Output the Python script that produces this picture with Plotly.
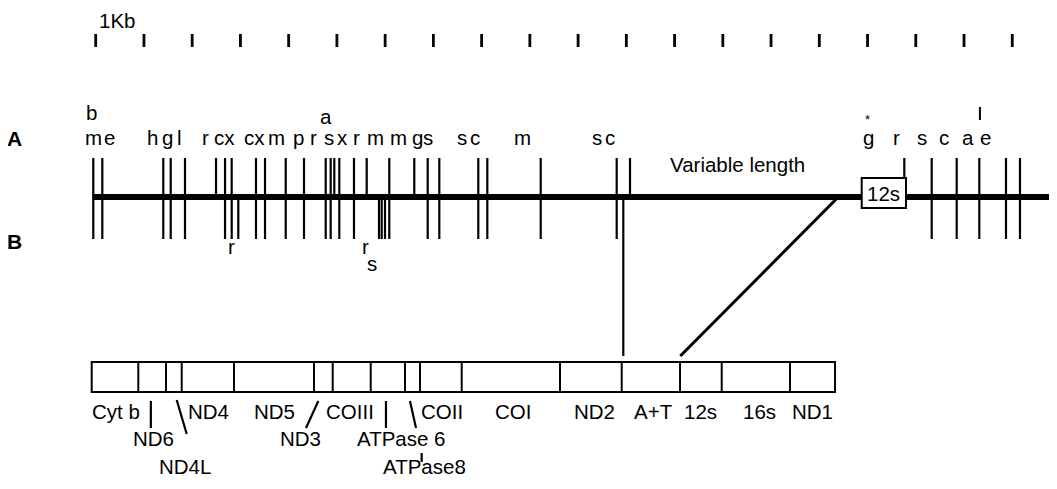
import plotly.graph_objects as go

# ---------------- data (positions in kb) ----------------
ruler_kb = list(range(20))

# restriction sites: position (kb), strand ("AB" both, "A" top only, "B" bottom only)
site_kb = [-0.05, 0.137, 1.401, 1.555, 1.851, 2.494, 2.681, 2.819, 2.956, 3.323,
           3.510, 3.939, 4.318, 4.768, 4.871, 4.946, 5.050, 5.354, 5.618, 5.873,
           5.929, 5.997, 6.086, 6.604, 6.882, 7.123, 7.931, 8.118, 9.225, 10.800,
           11.076, 16.762, 17.330, 17.848, 18.317, 18.870, 19.160]
site_strand = ["AB", "AB", "AB", "AB", "AB", "A", "AB", "AB", "B", "AB",
               "AB", "AB", "AB", "AB", "AB", "A", "AB", "AB", "A", "B",
               "B", "B", "AB", "A", "AB", "AB", "AB", "AB", "AB", "AB",
               "A", "A", "AB", "AB", "AB", "AB", "AB"]
link_site_kb = 10.937          # B site joined to the gene map
map_end_kb = [-0.062, 19.95]
rrna_box_kb = [15.879, 16.797]
diag_top_kb, diag_bottom_kb = 15.394, 12.119

top_labels = ["m", "e", "h", "g", "l", "r", "cx", "cx", "m", "p", "r", "s", "x",
              "r", "m", "m", "g", "s", "s", "c", "m", "s", "c", "g", "r", "s", "c", "a", "e"]
top_label_kb = [-0.05, 0.296, 1.182, 1.478, 1.727, 2.266, 2.67, 3.30,
                3.752, 4.194, 4.505, 4.836, 5.126, 5.396, 5.790, 6.267, 6.661, 6.889,
                7.593, 7.863, 8.852, 10.398, 10.667, 16.016, 16.590, 17.123, 17.585,
                18.083, 18.435]
upper_labels = ["b", "a", "*"]
upper_label_kb = [-0.083, 4.768, 15.99]
bottom_labels = ["r", "r", "s"]
bottom_label_kb = [2.819, 5.583, 5.721]
bottom_label_row = [0, 0, 1]

gene_bounds_kb = [-0.083, 0.883, 1.457, 1.783, 2.867, 4.525, 4.913, 5.701, 6.412, 6.723,
                  7.587, 9.625, 10.904, 12.113, 12.977, 14.393, 15.326]
gene_names = ["Cyt b", "ND6", "ND4L", "ND4", "ND5", "ND3", "COIII", "ATPase 6", "ATPase8",
              "COII", "COI", "ND2", "A+T", "12s", "16s", "ND1"]
gene_label_kb = [0.421, 1.188, 1.851, 2.332, 3.716, 4.235, 5.271, 6.349, 6.826,
                 7.172, 8.650, 10.330, 11.553, 12.527, 13.750, 14.849]
gene_label_row = [0, 1, 2, 0, 0, 1, 0, 1, 2, 0, 0, 0, 0, 0, 0, 0]
# leader lines (x0, x1) in kb, row spans
leader_x0 = [1.143, 1.679, 4.615, 6.017, 6.515, 6.757]
leader_x1 = [1.143, 1.887, 4.360, 6.017, 6.640, 6.757]
leader_row = ["r1", "r1l", "r1", "r1", "r1", "r2"]

# ---------------- layout constants (pixels on y) ----------------
FONT = "Liberation Sans"
FS = 20.5
Y_RULER = (34, 47)
Y_MAP = 197
Y_TOP, Y_BOT = 158, 239
Y_GENE = (362, 392)
Y_ROWS = [411, 438, 466]
PAGE_OFF = 8          # body margin of the html page
W, H = 1057 - PAGE_OFF, 489 - PAGE_OFF
PX_PER_KB, KB0_PX = 48.24, 95.7

fig = go.Figure()

def seg_trace(xs0, xs1, ys0, ys1, width):
    X, Y = [], []
    for a, b, c, d in zip(xs0, xs1, ys0, ys1):
        X += [a, b, None]
        Y += [c, d, None]
    fig.add_trace(go.Scatter(x=X, y=Y, mode="lines", line=dict(color="black", width=width),
                             hoverinfo="skip", showlegend=False))

# ruler
seg_trace(ruler_kb, ruler_kb, [Y_RULER[0]] * 20, [Y_RULER[1]] * 20, 2.8)

# cut sites
x0, x1, y0, y1 = [], [], [], []
for k, s in zip(site_kb, site_strand):
    x0.append(k); x1.append(k)
    y0.append(Y_TOP if "A" in s else Y_MAP)
    y1.append(Y_BOT if "B" in s else Y_MAP)
seg_trace(x0, x1, y0, y1, 2.2)
# link line and diagonal
seg_trace([link_site_kb], [link_site_kb], [Y_MAP], [356], 2.2)
seg_trace([diag_top_kb], [diag_bottom_kb], [Y_MAP], [356], 3)
# main map line
seg_trace([map_end_kb[0]], [map_end_kb[1]], [Y_MAP], [Y_MAP], 6)

# 12s box on map
fig.add_shape(type="rect", x0=rrna_box_kb[0], x1=rrna_box_kb[1], y0=178, y1=208,
              line=dict(color="black", width=2), fillcolor="white", layer="above")

# gene map box
fig.add_shape(type="rect", x0=gene_bounds_kb[0], x1=gene_bounds_kb[-1], y0=Y_GENE[0], y1=Y_GENE[1],
              line=dict(color="black", width=2), fillcolor="white", layer="above")
for b in gene_bounds_kb[1:-1]:
    fig.add_shape(type="line", x0=b, x1=b, y0=Y_GENE[0], y1=Y_GENE[1],
                  line=dict(color="black", width=2), layer="above")

# leader lines
rows = {"r1": (401, 428), "r1l": (400, 434), "r2": (453, 462)}
lx0, lx1, ly0, ly1 = [], [], [], []
for a, b, r in zip(leader_x0, leader_x1, leader_row):
    lx0.append(a); lx1.append(b); ly0.append(rows[r][0]); ly1.append(rows[r][1])
seg_trace(lx0, lx1, ly0, ly1, 2.2)
# short mark above "ae"
seg_trace([18.33], [18.33], [107], [120], 2)

def text(x, y, s, size=FS, bold=False, xanchor="center"):
    fig.add_annotation(x=x, y=y, text=("<b>%s</b>" % s) if bold else s, showarrow=False,
                       xref="x", yref="y", xanchor=xanchor, yanchor="middle",
                       font=dict(family=FONT, size=size, color="black"))

for s, k in zip(top_labels, top_label_kb):
    text(k, 137, s)
upper_y = [112, 116, 119]
for s, k, y in zip(upper_labels, upper_label_kb, upper_y):
    text(k, y, s, size=FS if s != "*" else 13)
for s, k, r in zip(bottom_labels, bottom_label_kb, bottom_label_row):
    text(k, [246, 263][r], s)
for s, k, r in zip(gene_names, gene_label_kb, gene_label_row):
    text(k, Y_ROWS[r], s)

text(-1.68, 138, "A", size=21, bold=True)
text(-1.68, 241, "B", size=21, bold=True)
text(0.45, 20, "1Kb")
text(13.314, 164, "Variable length")
text(sum(rrna_box_kb) / 2, 193, "12s")

xmin = -(KB0_PX - PAGE_OFF) / PX_PER_KB
fig.update_layout(
    width=W, height=H, margin=dict(l=0, r=0, t=0, b=0),
    paper_bgcolor="white", plot_bgcolor="white",
    xaxis=dict(range=[xmin, xmin + W / PX_PER_KB], visible=False, fixedrange=True),
    yaxis=dict(range=[PAGE_OFF + H, PAGE_OFF], visible=False, fixedrange=True),
    showlegend=False,
)
fig.write_html("out.html")
